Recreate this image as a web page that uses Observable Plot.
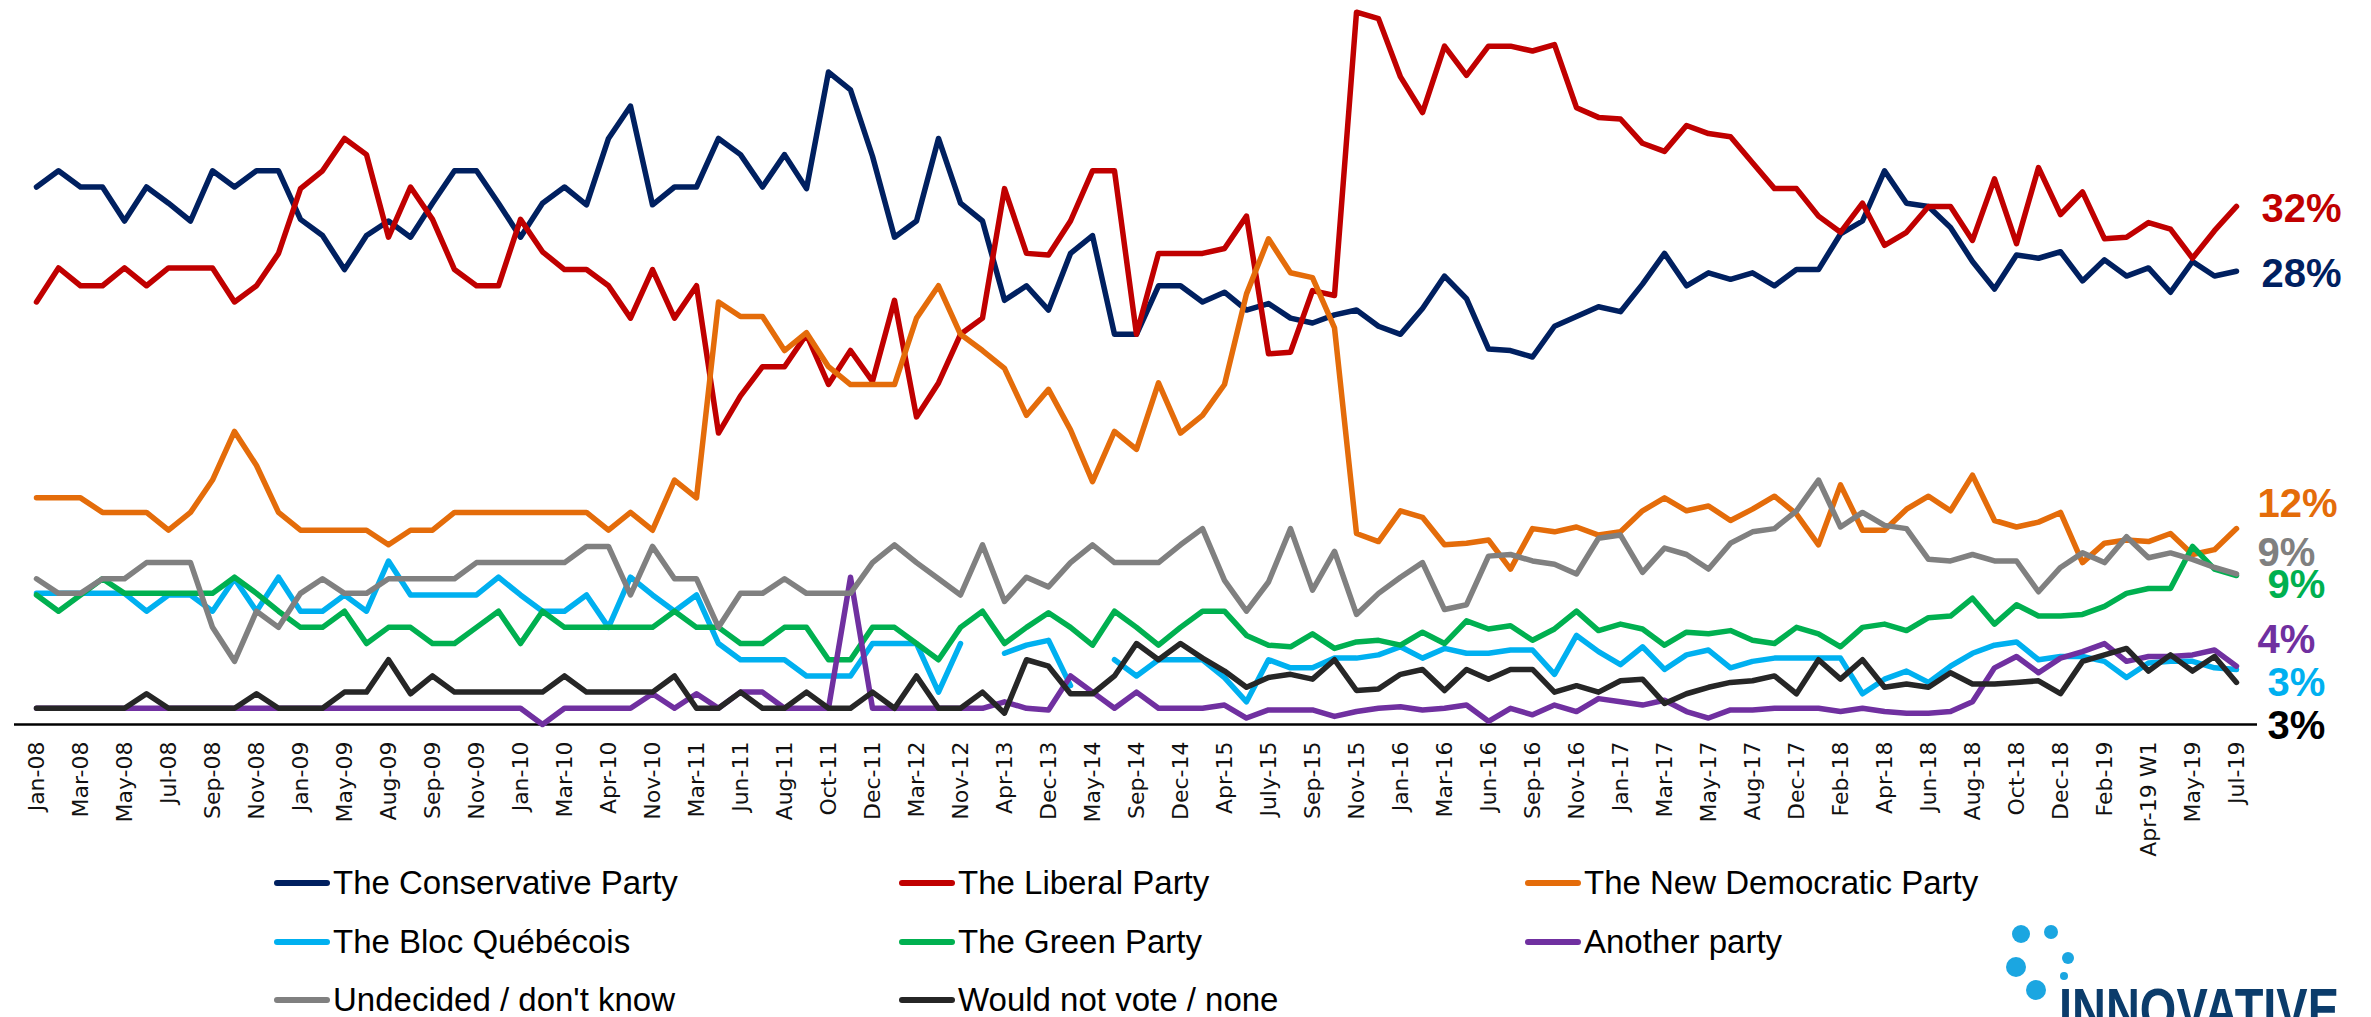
<!DOCTYPE html>
<html><head><meta charset="utf-8">
<script src="https://cdn.jsdelivr.net/npm/d3@7"></script>
<script src="https://cdn.jsdelivr.net/npm/@observablehq/plot@0.6"></script>
<style>
html,body{margin:0;padding:0;background:#fff;}
#wrap{position:relative;width:2371px;height:1017px;overflow:hidden;background:#fff;}
#chart{position:absolute;left:0;top:0;}
.item{position:absolute;display:flex;align-items:center;height:44px;margin-top:-22px;font-family:"Liberation Sans",Arial,sans-serif;font-size:33px;color:#000;white-space:nowrap;}
.sw{width:56px;height:6px;border-radius:3px;margin-right:3px;flex:none;}
#logo{position:absolute;left:1990px;top:900px;}
</style></head><body>
<div id="wrap"><div id="chart"></div><div id="legend"></div>
<svg id="logo" width="381" height="117" viewBox="1990 900 381 117">
  <g fill="#1ba6e1">
    <circle cx="2021" cy="934" r="9"/><circle cx="2051" cy="932" r="7"/>
    <circle cx="2068" cy="958" r="6"/><circle cx="2016" cy="967" r="10"/>
    <circle cx="2064" cy="976" r="4"/><circle cx="2036" cy="990" r="10"/>
  </g>
  <text x="2059" y="1030" font-family="Liberation Sans, Arial, sans-serif" font-weight="bold" font-size="60" fill="#0b3c6b" textLength="280" lengthAdjust="spacingAndGlyphs">INNOVATIVE</text>
</svg>
</div>
<script>
const categories = ["Jan-08","Feb-08","Mar-08","Apr-08","May-08","Jun-08","Jul-08","Aug-08","Sep-08","Oct-08",
"Nov-08","Dec-08","Jan-09","Mar-09","May-09","Jul-09","Aug-09","Aug-09 W2","Sep-09","Oct-09",
"Nov-09","Dec-09","Jan-10","Feb-10","Mar-10","Mar-10 W2","Apr-10","Jun-10","Nov-10","Jan-11",
"Mar-11","Apr-11","Jun-11","Jul-11","Aug-11","Sep-11","Oct-11","Nov-11","Dec-11","Jan-12",
"Mar-12","Jun-12","Nov-12","Jan-13","Apr-13","Sep-13","Dec-13","Feb-14","May-14","Jul-14",
"Sep-14","Nov-14","Dec-14","Feb-15","Apr-15","Jun-15","July-15","Aug-15","Sep-15","Oct-15",
"Nov-15","Dec-15","Jan-16","Feb-16","Mar-16","Apr-16","Jun-16","Jul-16","Sep-16","Oct-16",
"Nov-16","Dec-16","Jan-17","Feb-17","Mar-17","Apr-17","May-17","Jun-17","Aug-17","Oct-17",
"Dec-17","Jan-18","Feb-18","Mar-18","Apr-18","May-18","Jun-18","Jul-18","Aug-18","Sep-18",
"Oct-18","Nov-18","Dec-18","Jan-19","Feb-19","Mar-19","Apr-19 W1","Apr-19 W2","May-19","Jun-19",
"Jul-19"];

const tickLabels = ["Jan-08","Mar-08","May-08","Jul-08","Sep-08","Nov-08","Jan-09","May-09","Aug-09","Sep-09",
"Nov-09","Jan-10","Mar-10","Apr-10","Nov-10","Mar-11","Jun-11","Aug-11","Oct-11","Dec-11",
"Mar-12","Nov-12","Apr-13","Dec-13","May-14","Sep-14","Dec-14","Apr-15","July-15","Sep-15",
"Nov-15","Jan-16","Mar-16","Jun-16","Sep-16","Nov-16","Jan-17","Mar-17","May-17","Aug-17",
"Dec-17","Feb-18","Apr-18","Jun-18","Aug-18","Oct-18","Dec-18","Feb-19","Apr-19 W1","May-19","Jul-19"];

const conservative = [33.2,34.2,33.2,33.2,31.1,33.2,32.2,31.1,34.2,33.2,
34.2,34.2,31.2,30.2,28.1,30.2,31.1,30.1,32.2,34.2,
34.2,32.2,30.1,32.2,33.2,32.1,36.2,38.2,32.1,33.2,
33.2,36.2,35.2,33.2,35.2,33.1,40.3,39.2,35.1,30.1,
31.1,36.2,32.2,31.1,26.2,27.1,25.6,29.1,30.2,24.1,
24.1,27.1,27.1,26.1,26.7,25.6,26.0,25.1,24.8,25.3,
25.6,24.6,24.1,25.7,27.7,26.3,23.2,23.1,22.7,24.6,
25.2,25.8,25.5,27.2,29.1,27.1,27.9,27.5,27.9,27.1,
28.1,28.1,30.3,31.1,34.2,32.2,32.0,30.7,28.6,26.9,
29.0,28.8,29.2,27.4,28.7,27.7,28.2,26.7,28.6,27.7,
28.0];

const liberal = [26.1,28.2,27.1,27.1,28.2,27.1,28.2,28.2,28.2,26.1,
27.1,29.1,33.1,34.2,36.2,35.2,30.1,33.2,31.2,28.1,
27.1,27.1,31.2,29.2,28.1,28.1,27.1,25.1,28.1,25.1,
27.1,18.0,20.3,22.1,22.1,24.1,21.0,23.1,21.2,26.2,
19.0,21.1,24.1,25.1,33.1,29.1,29.0,31.1,34.2,34.2,
24.1,29.1,29.1,29.1,29.4,31.4,22.9,23.0,26.8,26.5,
44.0,43.6,40.0,37.8,41.9,40.1,41.9,41.9,41.6,42.0,
38.1,37.5,37.4,35.9,35.4,37.0,36.5,36.3,34.7,33.1,
33.1,31.4,30.4,32.2,29.6,30.4,32.0,32.0,29.9,33.7,
29.7,34.4,31.5,32.9,30.0,30.1,31.0,30.6,28.8,30.5,
32.0];

const ndp = [14.0,14.0,14.0,13.1,13.1,13.1,12.0,13.1,15.1,18.1,
16.0,13.1,12.0,12.0,12.0,12.0,11.1,12.0,12.0,13.1,
13.1,13.1,13.1,13.1,13.1,13.1,12.0,13.1,12.0,15.1,
14.0,26.1,25.2,25.2,23.1,24.2,22.1,21.0,21.0,21.0,
25.1,27.1,24.1,23.1,22.0,19.1,20.7,18.2,15.0,18.1,
17.0,21.1,18.0,19.1,21.0,26.6,30.0,27.9,27.6,24.5,
11.8,11.3,13.2,12.8,11.1,11.2,11.4,9.6,12.1,11.9,
12.2,11.7,11.9,13.2,14.0,13.2,13.5,12.6,13.3,14.1,
13.0,11.1,14.8,12.0,12.0,13.3,14.1,13.2,15.4,12.6,
12.2,12.5,13.1,10.0,11.2,11.4,11.3,11.8,10.5,10.8,
12.1];

const bloc = [8.1,8.1,8.1,8.1,8.1,7.0,8.0,8.0,7.0,9.0,
7.0,9.1,7.0,7.0,8.0,7.0,10.1,8.0,8.0,8.0,
8.0,9.1,8.0,7.0,7.0,8.0,6.0,9.1,8.0,7.0,
8.0,5.0,4.0,4.0,4.0,3.0,3.0,3.0,5.0,5.0,
5.0,2.0,5.0,null,4.4,4.9,5.2,2.4,null,4.0,
3.0,4.0,4.0,4.0,2.9,1.4,4.0,3.5,3.5,4.1,
4.1,4.3,4.8,4.1,4.7,4.4,4.4,4.6,4.6,3.1,
5.5,4.5,3.7,4.8,3.4,4.3,4.6,3.5,3.9,4.1,
4.1,4.1,4.1,1.9,2.8,3.3,2.6,3.6,4.4,4.9,
5.1,4.0,4.2,4.2,3.9,2.9,3.8,3.9,3.9,3.5,
3.4];

const green = [8.0,7.0,8.0,9.0,8.1,8.1,8.1,8.1,8.1,9.1,
8.1,7.0,6.0,6.0,7.0,5.0,6.0,6.0,5.0,5.0,
6.0,7.0,5.0,7.0,6.0,6.0,6.0,6.0,6.0,7.0,
6.0,6.0,5.0,5.0,6.0,6.0,4.0,4.0,6.0,6.0,
5.0,4.0,6.0,7.0,5.0,6.0,6.9,6.0,4.9,7.0,
6.0,4.9,6.0,7.0,7.0,5.5,4.9,4.8,5.6,4.7,
5.1,5.2,4.9,5.7,5.0,6.4,5.9,6.1,5.2,5.9,
7.0,5.8,6.2,5.9,4.9,5.7,5.6,5.8,5.2,5.0,
6.0,5.6,4.8,6.0,6.2,5.8,6.6,6.7,7.8,6.2,
7.4,6.7,6.7,6.8,7.3,8.1,8.4,8.4,11.0,9.6,
9.2];

const another = [1.0,1.0,1.0,1.0,1.0,1.0,1.0,1.0,1.0,1.0,
1.0,1.0,1.0,1.0,1.0,1.0,1.0,1.0,1.0,1.0,
1.0,1.0,1.0,0.0,1.0,1.0,1.0,1.0,1.9,1.0,
1.9,1.0,2.0,2.0,1.0,1.0,1.0,9.1,1.0,1.0,
1.0,1.0,1.0,1.0,1.4,1.0,0.9,3.0,2.0,1.0,
2.0,1.0,1.0,1.0,1.2,0.4,0.9,0.9,0.9,0.5,
0.8,1.0,1.1,0.9,1.0,1.2,0.2,1.0,0.6,1.2,
0.8,1.6,1.4,1.2,1.5,0.8,0.4,0.9,0.9,1.0,
1.0,1.0,0.8,1.0,0.8,0.7,0.7,0.8,1.4,3.5,
4.2,3.2,4.1,4.5,5.0,3.9,4.2,4.2,4.3,4.6,
3.6];

const undecided = [9.0,8.1,8.1,9.0,9.0,10.0,10.0,10.0,6.0,3.9,
7.0,6.0,8.1,9.0,8.1,8.1,9.0,9.0,9.0,9.0,
10.0,10.0,10.0,10.0,10.0,11.0,11.0,8.0,11.0,9.0,
9.0,6.0,8.1,8.1,9.0,8.1,8.1,8.1,10.0,11.1,
10.0,9.0,8.0,11.1,7.6,9.1,8.5,10.0,11.1,10.0,
10.0,10.0,11.1,12.1,8.9,7.0,8.8,12.1,8.3,10.7,
6.8,8.1,9.1,10.0,7.1,7.4,10.4,10.5,10.1,9.9,
9.3,11.5,11.7,9.4,10.9,10.5,9.6,11.2,11.9,12.1,
13.2,15.1,12.2,13.1,12.3,12.1,10.2,10.1,10.5,10.1,
10.1,8.2,9.7,10.6,10.0,11.6,10.3,10.6,10.2,9.7,
9.3];

const wouldNotVote = [1.0,1.0,1.0,1.0,1.0,1.9,1.0,1.0,1.0,1.0,
1.9,1.0,1.0,1.0,2.0,2.0,4.0,1.9,3.0,2.0,
2.0,2.0,2.0,2.0,3.0,2.0,2.0,2.0,2.0,3.0,
1.0,1.0,2.0,1.0,1.0,2.0,1.0,1.0,2.0,1.0,
3.0,1.0,1.0,2.0,0.7,4.0,3.6,1.9,1.9,3.0,
5.0,4.0,5.0,4.1,3.3,2.3,2.9,3.1,2.8,4.0,
2.1,2.2,3.1,3.4,2.1,3.4,2.8,3.4,3.4,2.0,
2.4,2.0,2.7,2.8,1.3,1.9,2.3,2.6,2.7,3.0,
1.9,4.0,2.8,4.0,2.3,2.5,2.3,3.2,2.5,2.5,
2.6,2.7,1.9,3.9,4.3,4.7,3.3,4.3,3.3,4.2,
2.6];

const seriesNames = ["The Conservative Party","The Liberal Party","The New Democratic Party",
  "The Bloc Québécois","The Green Party","Another party","Undecided / don't know","Would not vote / none"];
const seriesColors = ["#002060","#C00000","#E46C0A","#00B0F0","#00B050","#7030A0","#808080","#262626"];
const seriesValues = [conservative, liberal, ndp, bloc, green, another, undecided, wouldNotVote];
const endLabels = ["28%","32%","12%","3%","9%","4%","9%","3%"];
const endLabelColors = ["#002060","#C00000","#E46C0A","#00B0F0","#00B050","#7030A0","#808080","#000000"];
const endLabelDx = [25,25,21,31,31,21,21,31];
const endLabelDy = [3,3,-24,14,10,-26,-21,44];

const rows = [];
seriesNames.forEach((s, k) => {
  seriesValues[k].forEach((v, i) => rows.push({series: s, cat: categories[i], value: v}));
});
const last = categories.length - 1;

const endMarks = seriesNames.map((s, k) => Plot.text([{cat: categories[last], value: seriesValues[k][last], label: endLabels[k]}], {
  x: "cat", y: "value", text: "label", fill: endLabelColors[k], dx: endLabelDx[k], dy: endLabelDy[k],
  textAnchor: "start", fontSize: 40, fontWeight: "bold", fontFamily: "Liberation Sans, Arial, sans-serif"
}));

const chart = Plot.plot({
  width: 2371,
  height: 860,
  marginLeft: 14,
  marginRight: 114,
  marginTop: 0,
  marginBottom: 136,
  style: {fontFamily: "DejaVu Sans, sans-serif", background: "transparent", overflow: "visible", color: "#000"},
  x: {type: "point", domain: categories, padding: 0.47},
  y: {domain: [0, 44.72], axis: null},
  color: {domain: seriesNames, range: seriesColors},
  marks: [
    Plot.ruleY([0], {stroke: "#000", strokeWidth: 2.5}),
    Plot.line(rows, {x: "cat", y: "value", z: "series", stroke: "series", strokeWidth: 5.5,
      strokeLinejoin: "round", strokeLinecap: "round"}),
    Plot.axisX(tickLabels, {tickRotate: -90, tickSize: 0, tickPadding: 17, fontSize: 22, fill: "#111", label: null}),
    ...endMarks
  ]
});
document.getElementById("chart").appendChild(chart);

// legend (3 columns x 3 rows)
const legendCols = [274, 899, 1525];
const legendRows = [883, 942, 1000];
const legend = document.getElementById("legend");
seriesNames.forEach((s, k) => {
  const el = document.createElement("div");
  el.className = "item";
  el.style.left = legendCols[k % 3] + "px";
  el.style.top = legendRows[Math.floor(k / 3)] + "px";
  const sw = document.createElement("span");
  sw.className = "sw";
  sw.style.background = seriesColors[k];
  const tx = document.createElement("span");
  tx.textContent = s;
  el.appendChild(sw); el.appendChild(tx);
  legend.appendChild(el);
});
</script>
</body></html>
